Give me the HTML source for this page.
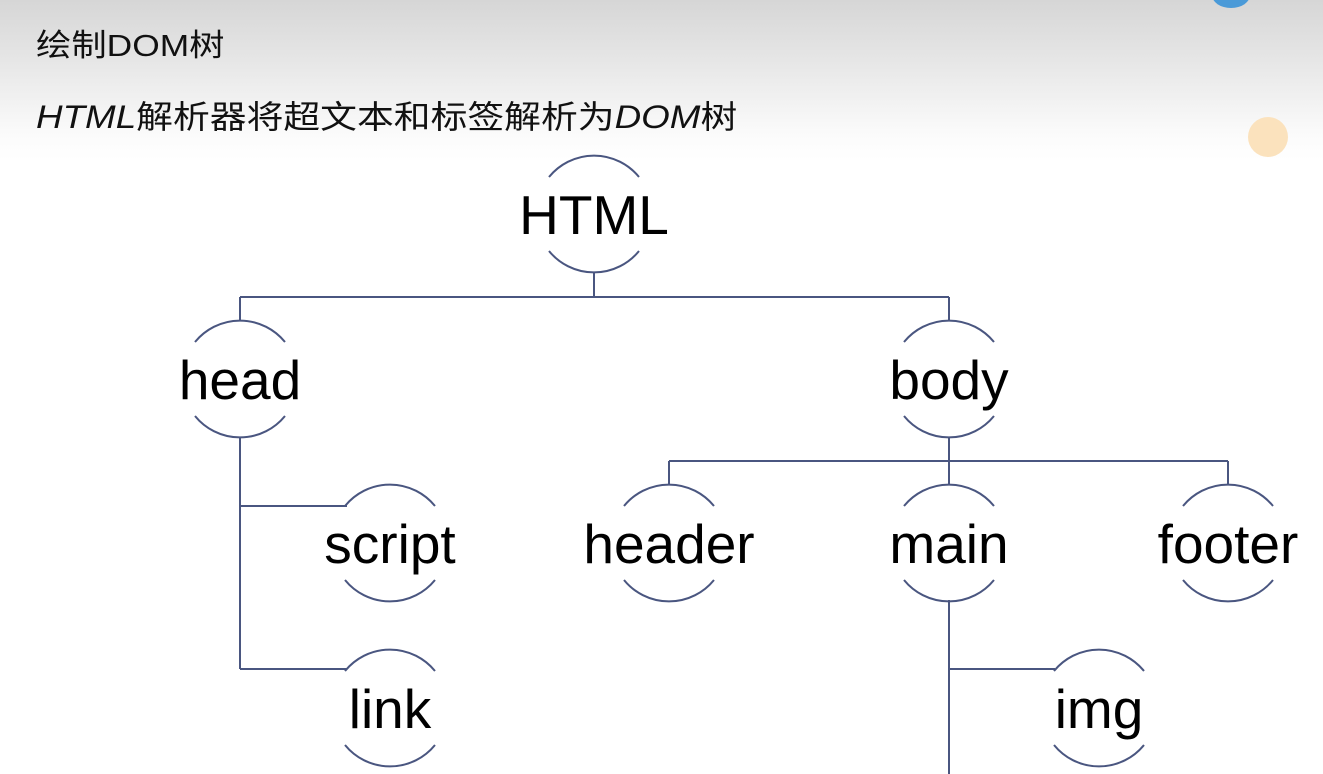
<!DOCTYPE html>
<html><head><meta charset="utf-8"><style>
html,body{margin:0;padding:0}
body{width:1323px;height:774px;overflow:hidden;position:relative;background:linear-gradient(#d6d6d6 0px,#e6e6e6 60px,#fbfbfb 135px,#fff 160px);font-family:"Liberation Sans","Noto Sans CJK SC",sans-serif}
.t{position:absolute;color:#111;white-space:nowrap;transform-origin:0 0}
i{font-style:italic}
</style></head><body>
<div class="t" style="left:36px;top:20px;font-size:31px;transform:scaleX(1.14);">绘制DOM树</div>
<div class="t" style="left:36px;top:92px;font-size:32px;transform:scaleX(1.15);"><i>HTML</i>解析器将超文本和标签解析为<i>DOM</i>树</div>
<div style="position:absolute;left:1212px;top:-18px;width:38px;height:26px;border-radius:50%;background:#4a9ad8"></div>
<div style="position:absolute;left:1248px;top:117px;width:40px;height:40px;border-radius:50%;background:#fbe2bd"></div>
<svg width="1323" height="774" style="position:absolute;left:0;top:0" fill="none" stroke="#4a5680" stroke-width="2">
<path d="M594 272V297M240 297H949M240 297V321M949 297V321"/>
<path d="M949 437V461M669 461H1228M669 461V485M949 461V485M1228 461V485"/>
<path d="M240 437V669M240 506H347M240 669H347"/>
<path d="M949 600V774M949 669H1055"/>
<path d="M549 177A58 58 0 0 1 639 177M549 251A58 58 0 0 0 639 251"/>
<path d="M195 342A58 58 0 0 1 285 342M195 416A58 58 0 0 0 285 416"/>
<path d="M904 342A58 58 0 0 1 994 342M904 416A58 58 0 0 0 994 416"/>
<path d="M345 506A58 58 0 0 1 435 506M345 580A58 58 0 0 0 435 580"/>
<path d="M624 506A58 58 0 0 1 714 506M624 580A58 58 0 0 0 714 580"/>
<path d="M904 506A58 58 0 0 1 994 506M904 580A58 58 0 0 0 994 580"/>
<path d="M1183 506A58 58 0 0 1 1273 506M1183 580A58 58 0 0 0 1273 580"/>
<path d="M345 671A58 58 0 0 1 435 671M345 745A58 58 0 0 0 435 745"/>
<path d="M1054 671A58 58 0 0 1 1144 671M1054 745A58 58 0 0 0 1144 745"/>
<g font-family="Liberation Sans, sans-serif" fill="#000" stroke="none" text-anchor="middle" font-size="55">
<text x="594" y="234">HTML</text>
<text x="240" y="399">head</text>
<text x="949" y="399">body</text>
<text x="390" y="563">script</text>
<text x="669" y="563">header</text>
<text x="949" y="563">main</text>
<text x="1228" y="563">footer</text>
<text x="390" y="728">link</text>
<text x="1099" y="728">img</text>
</g>
</svg>
</body></html>
